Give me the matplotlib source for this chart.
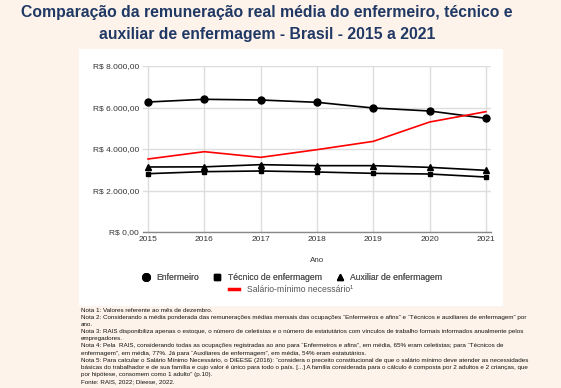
import matplotlib
matplotlib.use("Agg")
import matplotlib.pyplot as plt
from matplotlib.lines import Line2D
from matplotlib.patches import Rectangle

plt.rcParams['font.family'] = ['Liberation Sans', 'DejaVu Sans']

anos = [2015, 2016, 2017, 2018, 2019, 2020, 2021]
enfermeiro = [6265, 6395, 6361, 6250, 5976, 5831, 5478]
tecnico = [2811, 2908, 2940, 2892, 2827, 2795, 2650]
auxiliar = [3133, 3140, 3245, 3197, 3197, 3116, 2972]
salario_minimo = [3518, 3871, 3598, 3968, 4369, 5301, 5799]
yticks = [0, 2000, 4000, 6000, 8000]
ytick_labels = ["R$ 0,00", "R$ 2.000,00", "R$ 4.000,00", "R$ 6.000,00", "R$ 8.000,00"]

title = "Comparação da remuneração real média do enfermeiro, técnico e\nauxiliar de enfermagem - Brasil - 2015 a 2021"
notas = [
    "Nota 1: Valores referente ao mês de dezembro.",
    "Nota 2: Considerando a média ponderada das remunerações médias mensais das ocupações “Enfermeiros e afins” e “Técnicos e auxiliares de enfermagem” por",
    "ano.",
    "Nota 3: RAIS disponibiliza apenas o estoque, o número de celetistas e o número de estatutários com vínculos de trabalho formais informados anualmente pelos",
    "empregadores.",
    "Nota 4: Pela  RAIS, considerando todas as ocupações registradas ao ano para “Enfermeiros e afins”, em média, 65% eram celetistas; para “Técnicos de",
    "enfermagem”, em média, 77%. Já para “Auxiliares de enfermagem”, em média, 54% eram estatutários.",
    "Nota 5: Para calcular o Salário Mínimo Necessário, o DIEESE (2016): “considera o preceito constitucional de que o salário mínimo deve atender as necessidades",
    "básicas do trabalhador e de sua família e cujo valor é único para todo o país. [...] A família considerada para o cálculo é composta por 2 adultos e 2 crianças, que",
    "por hipótese, consomem como 1 adulto” (p.10).",
    "Fonte: RAIS, 2022; Dieese, 2022.",
]

W, H = 561, 388
bg = '#fdf3ea'
fig = plt.figure(figsize=(W/100, H/100), dpi=100, facecolor=bg)

# white panel
fig.patches.append(Rectangle((79/W, 1-306/H), (503-79)/W, (306-49)/H,
                             transform=fig.transFigure, facecolor='white',
                             edgecolor='none', zorder=-5))

fig.text(267/W, 1-12/H, title.split("\n")[0], ha='center', va='center',
         fontsize=11.3, fontweight='bold', color='#203864')
fig.text(267/W, 1-35/H, title.split("\n")[1], ha='center', va='center',
         fontsize=11.3, fontweight='bold', color='#203864')

ax = fig.add_axes([143/W, 1-232/H, (491-143)/W, (232-66)/H])
ax.set_zorder(2)
ax.patch.set_alpha(0)
ax.set_xlim(2014.91, 2021.09)
ax.set_ylim(0, 8000)
ax.set_xticks(anos)
ax.set_xticklabels([str(a) for a in anos], fontsize=6, color='#333333')
ax.set_yticks(yticks)
ax.set_yticklabels(ytick_labels, fontsize=6, color='#333333')
ax.tick_params(length=0, pad=3)
ax.grid(True, color='#dddddd', linewidth=1)
for s in ['top', 'right', 'left']:
    ax.spines[s].set_visible(False)
ax.spines['bottom'].set_color('#888888')
ax.spines['bottom'].set_linewidth(1)
ax.set_axisbelow(True)

ax.plot(anos, enfermeiro, color='black', lw=1.2, marker='o', ms=5, clip_on=False, zorder=3)
ax.plot(anos, tecnico, color='black', lw=1.2, marker='s', ms=3.5, clip_on=False, zorder=3)
ax.plot(anos, auxiliar, color='black', lw=1.2, marker='^', ms=4, clip_on=False, zorder=3)
ax.plot(anos, salario_minimo, color='red', lw=1.2, zorder=3)

fig.text(317/W, 1-261/H, "Ano", ha='center', va='center', fontsize=5.8, color='#333333')

h1 = [Line2D([], [], color='black', marker='o', ls='none', ms=5.5),
      Line2D([], [], color='black', marker='s', ls='none', ms=4),
      Line2D([], [], color='black', marker='^', ls='none', ms=4.5)]
leg1 = fig.legend(h1, ["Enfermeiro", "Técnico de enfermagem", "Auxiliar de enfermagem"],
                  loc='center', bbox_to_anchor=(292/W, 1-278/H), ncol=3, frameon=False,
                  fontsize=6.2, handlelength=1.0, handletextpad=0.7, columnspacing=1.6,
                  borderpad=0, borderaxespad=0, labelcolor='#555555')
h2 = [Line2D([], [], color='red', lw=2.5)]
leg2 = fig.legend(h2, ["Salário-mínimo necessário¹"], loc='center',
                  bbox_to_anchor=(291/W, 1-290/H), frameon=False, fontsize=6.2,
                  handlelength=1.2, handletextpad=1.0, borderpad=0, borderaxespad=0,
                  labelcolor='#555555')
fig.add_artist(leg1)

y0 = 310
for i, line in enumerate(notas):
    fig.text(81/W, 1-(y0 + i*7.2)/H, line, ha='left', va='center', fontsize=4.5, color='#111111')

fig.savefig("out.png", dpi=100, facecolor=bg)
